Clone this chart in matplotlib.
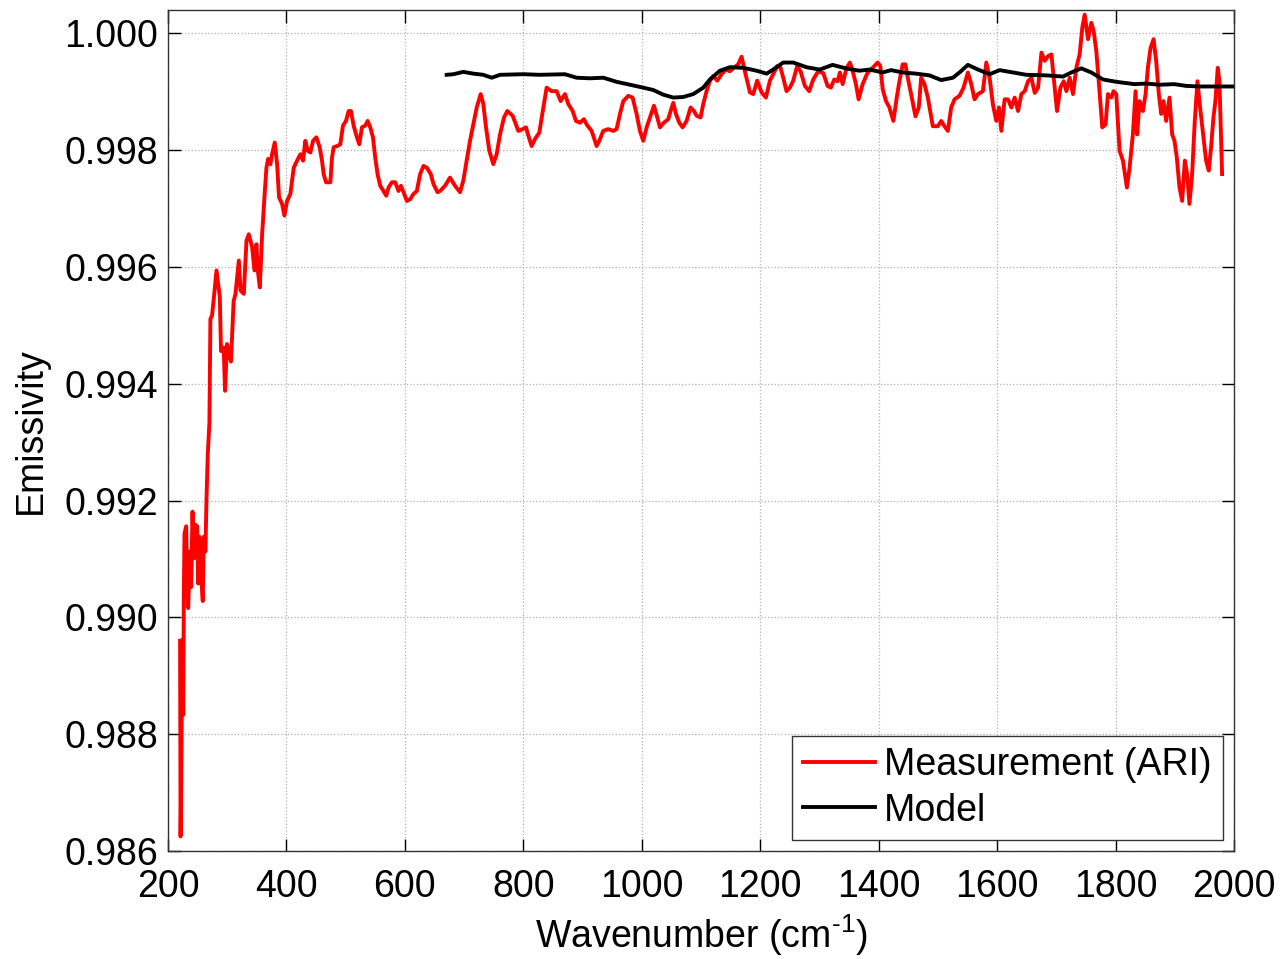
import matplotlib
matplotlib.use("Agg")
import matplotlib.pyplot as plt

plt.rcParams['font.family'] = ['Liberation Sans', 'DejaVu Sans']
plt.rcParams['mathtext.fontset'] = 'custom'
plt.rcParams['mathtext.rm'] = 'Liberation Sans'
plt.rcParams['mathtext.default'] = 'regular'

meas_x = [220.5, 221.3, 222.4, 224.1, 225.8, 226.9, 228.0, 230.8, 232.5, 234.2, 237.0, 239.2, 241.5, 243.7,
          245.9, 249.3, 251.0, 253.2, 256.0, 258.8, 260.5, 263.3, 265.0, 267.2, 270.0, 271.7, 274.5, 277.3,
          282.0, 287.6, 289.6, 294.1, 296.4, 299.7, 306.4, 310.9, 314.0, 319.7, 322.5, 328.1, 332.6, 336.5,
          342.1, 346.1, 349.4, 351.7, 355.1, 359.0, 362.9, 366.3, 369.1, 373.0, 375.8, 380.3, 384.3, 387.6,
          392.7, 396.6, 401.1, 406.7, 412.4, 418.0, 423.6, 428.1, 432.0, 436.0, 440.5, 445.0, 450.6, 456.2,
          460.1, 462.9, 466.9, 474.2, 477.0, 479.8, 485.4, 491.0, 495.5, 500.6, 505.1, 509.0, 513.5, 519.1,
          523.0, 527.5, 533.1, 537.1, 541.6, 546.1, 550.0, 553.9, 558.4, 564.0, 568.6, 572.5, 578.1, 583.7,
          589.3, 593.3, 597.8, 603.4, 609.0, 614.6, 620.2, 625.8, 631.5, 637.1, 643.8, 648.3, 655.1,
          659.4, 667.8, 676.2, 684.7, 693.1, 698.7, 704.4, 710.0, 715.6, 721.3, 728.0, 732.5, 737.0, 742.6,
          749.4, 755.0, 760.7, 767.4, 773.0, 782.0, 787.6, 791.6, 798.9, 804.5, 808.4, 814.1, 819.7, 827.0,
          833.8, 839.4, 847.8, 856.3, 863.0, 870.3, 876.0, 883.3, 888.9, 895.7, 902.4, 906.9, 915.3, 923.8,
          928.3, 935.0, 943.5, 951.9, 957.5, 963.2, 968.8, 977.2, 984.5, 991.3, 996.9, 1002.5, 1008.2, 1013.8,
          1020.5, 1026.2, 1030.7, 1037.4, 1044.7, 1048.7, 1053.2, 1057.7, 1063.3, 1068.9, 1075.7, 1082.4,
          1088.1, 1092.6, 1099.3, 1103.8, 1109.4, 1115.1, 1120.7, 1127.4, 1134.7, 1142.1, 1148.8, 1155.6,
          1162.9, 1168.5, 1174.1, 1182.6, 1188.2, 1194.9, 1202.3, 1209.6, 1216.3, 1221.9, 1228.7, 1234.3,
          1238.8, 1244.4, 1250.1, 1255.7, 1262.4, 1268.1, 1275.4, 1282.7, 1289.5, 1297.9, 1306.4,
          1313.7, 1319.3, 1325.0, 1330.6, 1334.6, 1339.1, 1345.8, 1351.5, 1356.0, 1361.6, 1366.1, 1372.9,
          1381.4, 1389.8, 1398.3, 1402.8, 1406.8, 1412.4, 1418.1, 1424.8, 1430.5, 1435.0, 1440.6, 1445.1,
          1449.1, 1454.7, 1462.1, 1467.7, 1471.7, 1477.3, 1483.0, 1491.4, 1499.9, 1505.5, 1511.1, 1516.8,
          1522.4, 1528.1, 1536.5, 1543.3, 1550.6, 1556.3, 1561.9, 1567.6, 1576.0, 1581.7, 1587.3, 1592.9,
          1598.6, 1603.1, 1607.1, 1612.7, 1618.4, 1624.0, 1629.6, 1635.3, 1640.9, 1646.6, 1652.2, 1657.8,
          1663.5, 1669.1, 1674.8, 1680.4, 1686.0, 1691.6, 1697.2, 1701.1, 1706.8, 1712.4, 1716.9, 1722.5,
          1728.1, 1733.7, 1739.3, 1743.8, 1747.8, 1753.4, 1759.0, 1762.9, 1767.4, 1771.9, 1777.5, 1783.1,
          1787.1, 1792.7, 1796.6, 1801.1, 1806.7, 1812.4, 1819.1, 1823.6, 1829.2, 1833.7, 1836.5, 1840.4,
          1846.1, 1850.6, 1854.5, 1859.0, 1864.1, 1868.5, 1873.0, 1877.0, 1880.9, 1885.4, 1891.0, 1895.5,
          1899.4, 1903.4, 1907.9, 1912.4, 1916.9, 1920.8, 1924.7, 1929.2, 1933.7, 1938.2, 1942.7, 1947.2,
          1952.8, 1957.3, 1961.2, 1965.2, 1968.5, 1972.5, 1975.3, 1979.8]
meas_y = [0.98960, 0.98625, 0.98711, 0.98961, 0.98833, 0.99052, 0.99144, 0.99156, 0.99052, 0.99016, 0.99113,
          0.99052, 0.99181, 0.99101, 0.99159, 0.99156, 0.99058, 0.99138, 0.99071, 0.99028, 0.99138, 0.99113,
          0.99199, 0.99278, 0.99333, 0.99511, 0.99517, 0.99545,
          0.99594, 0.99548, 0.99456, 0.99462, 0.99388, 0.99468, 0.99438, 0.99541, 0.99554, 0.99611, 0.99560,
          0.99554, 0.99645, 0.99656, 0.99634, 0.99594, 0.99639, 0.99594, 0.99565, 0.99656, 0.99719, 0.99770,
          0.99785, 0.99776, 0.99793, 0.99813, 0.99776, 0.99719, 0.99708, 0.99688, 0.99713, 0.99725, 0.99770,
          0.99782, 0.99793, 0.99782, 0.99816, 0.99799, 0.99796, 0.99816, 0.99822, 0.99805, 0.99782, 0.99759,
          0.99745, 0.99745, 0.99787, 0.99805, 0.99807, 0.99810, 0.99842, 0.99850, 0.99867, 0.99867, 0.99842,
          0.99822, 0.99810, 0.99839, 0.99842, 0.99850, 0.99839, 0.99822, 0.99787, 0.99759, 0.99739, 0.99730,
          0.99722, 0.99736, 0.99745, 0.99745, 0.99730, 0.99739, 0.99728, 0.99713, 0.99716, 0.99725, 0.99730,
          0.99759, 0.99773, 0.99770, 0.99759, 0.99742, 0.99728,
          0.99730, 0.99739, 0.99753, 0.99739, 0.99728, 0.99748, 0.99782, 0.99816, 0.99844, 0.99873, 0.99896,
          0.99879, 0.99839, 0.99799, 0.99776, 0.99793, 0.99827, 0.99856, 0.99867, 0.99859, 0.99844, 0.99833,
          0.99836, 0.99839, 0.99825, 0.99807, 0.99819, 0.99830, 0.99873, 0.99907, 0.99901, 0.99901, 0.99884,
          0.99896, 0.99879, 0.99867, 0.99850, 0.99847, 0.99853, 0.99844, 0.99833, 0.99807, 0.99816, 0.99833,
          0.99836, 0.99833, 0.99836, 0.99862, 0.99884, 0.99893, 0.99890, 0.99862, 0.99833, 0.99816, 0.99839,
          0.99856, 0.99876, 0.99856, 0.99839, 0.99847, 0.99853, 0.99867, 0.99881, 0.99862, 0.99847, 0.99839,
          0.99850, 0.99873, 0.99867, 0.99859, 0.99856, 0.99879, 0.99901, 0.99919, 0.99927, 0.99919, 0.99930,
          0.99938, 0.99935, 0.99941, 0.99947, 0.99960, 0.99935, 0.99899, 0.99896, 0.99919, 0.99899, 0.99890,
          0.99919, 0.99930, 0.99944, 0.99941, 0.99924, 0.99901, 0.99907, 0.99919, 0.99944, 0.99935, 0.99910,
          0.99901, 0.99921, 0.99935, 0.99932,
          0.99910, 0.99907, 0.99921, 0.99918, 0.99933, 0.99913, 0.99941, 0.99950, 0.99936, 0.99913, 0.99887,
          0.99913, 0.99933, 0.99941, 0.99950, 0.99944, 0.99904, 0.99884, 0.99873, 0.99850, 0.99890, 0.99918,
          0.99947, 0.99947, 0.99924, 0.99896, 0.99858, 0.99873, 0.99924, 0.99913, 0.99890, 0.99841, 0.99841,
          0.99850, 0.99841, 0.99833, 0.99873, 0.99887, 0.99893, 0.99907, 0.99933, 0.99913, 0.99887, 0.99896,
          0.99901, 0.99950, 0.99924, 0.99878, 0.99850, 0.99873, 0.99833, 0.99887, 0.99887, 0.99873, 0.99890,
          0.99867, 0.99896, 0.99901, 0.99918, 0.99924, 0.99898, 0.99907, 0.99967, 0.99953, 0.99961, 0.99964,
          0.99907, 0.99867, 0.99907, 0.99918, 0.99901, 0.99924, 0.99896, 0.99941, 0.99964, 1.00010, 1.00032,
          0.99990, 1.00018, 1.00004, 0.99970, 0.99913, 0.99839, 0.99844, 0.99896, 0.99890, 0.99901, 0.99896,
          0.99799, 0.99782, 0.99736, 0.99770, 0.99827, 0.99901, 0.99827, 0.99884, 0.99867, 0.99896, 0.99941,
          0.99975, 0.99990, 0.99953, 0.99896, 0.99862, 0.99884, 0.99850, 0.99890, 0.99827, 0.99816, 0.99787,
          0.99736, 0.99713, 0.99782, 0.99759, 0.99708, 0.99759, 0.99850, 0.99918, 0.99873, 0.99833, 0.99782,
          0.99765, 0.99805, 0.99856, 0.99884, 0.99941, 0.99918, 0.99759]

# Model curve
model_x = [670.6, 681.9, 698.7, 715.6, 732.5, 746.6, 760.7, 800.0, 828.1, 870.3, 890.0, 912.5, 935.0,
           957.5, 980.0, 1002.5, 1019.4, 1036.3, 1053.2, 1070.0, 1086.9, 1103.8, 1115.1, 1131.9, 1148.8,
           1171.3, 1193.8, 1210.7, 1221.9, 1238.8, 1255.7, 1278.1, 1300.6, 1322.1, 1344.7, 1367.3, 1384.2,
           1406.8, 1420.9, 1440.6, 1463.2, 1485.8, 1505.5, 1525.3, 1536.5, 1550.6, 1567.6, 1587.3, 1604.2,
           1626.8, 1649.4, 1683.2, 1711.2, 1725.3, 1742.1, 1759.0, 1778.7, 1801.1, 1832.0, 1851.7, 1874.2,
           1899.4, 1919.1, 1941.6, 1975.3, 2000.0]
model_y = [0.99929, 0.99930, 0.99934, 0.99931, 0.99929, 0.99924, 0.99929, 0.99930, 0.99929, 0.99930,
           0.99924, 0.99923, 0.99924, 0.99917, 0.99912, 0.99907, 0.99903, 0.99895, 0.99890, 0.99891,
           0.99896, 0.99907, 0.99921, 0.99936, 0.99942, 0.99941, 0.99936, 0.99931, 0.99938, 0.99950,
           0.99950, 0.99942, 0.99938, 0.99946, 0.99940, 0.99936, 0.99938, 0.99933, 0.99937, 0.99933,
           0.99931, 0.99928, 0.99920, 0.99924, 0.99933, 0.99946, 0.99938, 0.99930, 0.99937, 0.99933,
           0.99929, 0.99928, 0.99926, 0.99933, 0.99940, 0.99933, 0.99921, 0.99917, 0.99913, 0.99914,
           0.99912, 0.99913, 0.99910, 0.99909, 0.99909, 0.99909]

xticks = [200, 400, 600, 800, 1000, 1200, 1400, 1600, 1800, 2000]
yticks = [0.986, 0.988, 0.990, 0.992, 0.994, 0.996, 0.998, 1.000]

fig = plt.figure(figsize=(12.82, 9.59), dpi=100)
ax = fig.add_axes([0.131, 0.1126, 0.8316, 0.877])

ax.plot(meas_x, meas_y, color='#ff0000', lw=2.8, label='Measurement (ARI)')
ax.plot(model_x, model_y, color='black', lw=2.8, label='Model')

ax.set_xlim(200, 2000)
ax.set_ylim(0.986, 1.0004)
ax.set_xticks(xticks)
ax.set_yticks(yticks)
ax.set_yticklabels(['%.3f' % v for v in yticks])

# matlab look: inward ticks on every side, dotted grid
ax.tick_params(direction='in', length=9, width=1, top=True, right=True, labelsize=27)
ax.tick_params(axis='x', pad=13)
ax.tick_params(axis='y', pad=7)
ax.grid(True, linestyle=':', color='#b0b0b0', lw=0.9)
for s in ax.spines.values():
    s.set_linewidth(1.0)
    s.set_color('#333333')

ax.set_xlabel(r'Wavenumber (cm$^{\text{-}1}$)', fontsize=27, labelpad=5)
ax.set_ylabel('Emissivity', fontsize=27, labelpad=11)

leg = ax.legend(loc='lower right', fontsize=27, fancybox=False, framealpha=1, edgecolor='#333333',
                handlelength=1.9, borderaxespad=0.3, labelspacing=0.25, handletextpad=0.25,
                borderpad=0.3)
leg.get_frame().set_linewidth(1.0)

fig.savefig('out.png', dpi=100)
